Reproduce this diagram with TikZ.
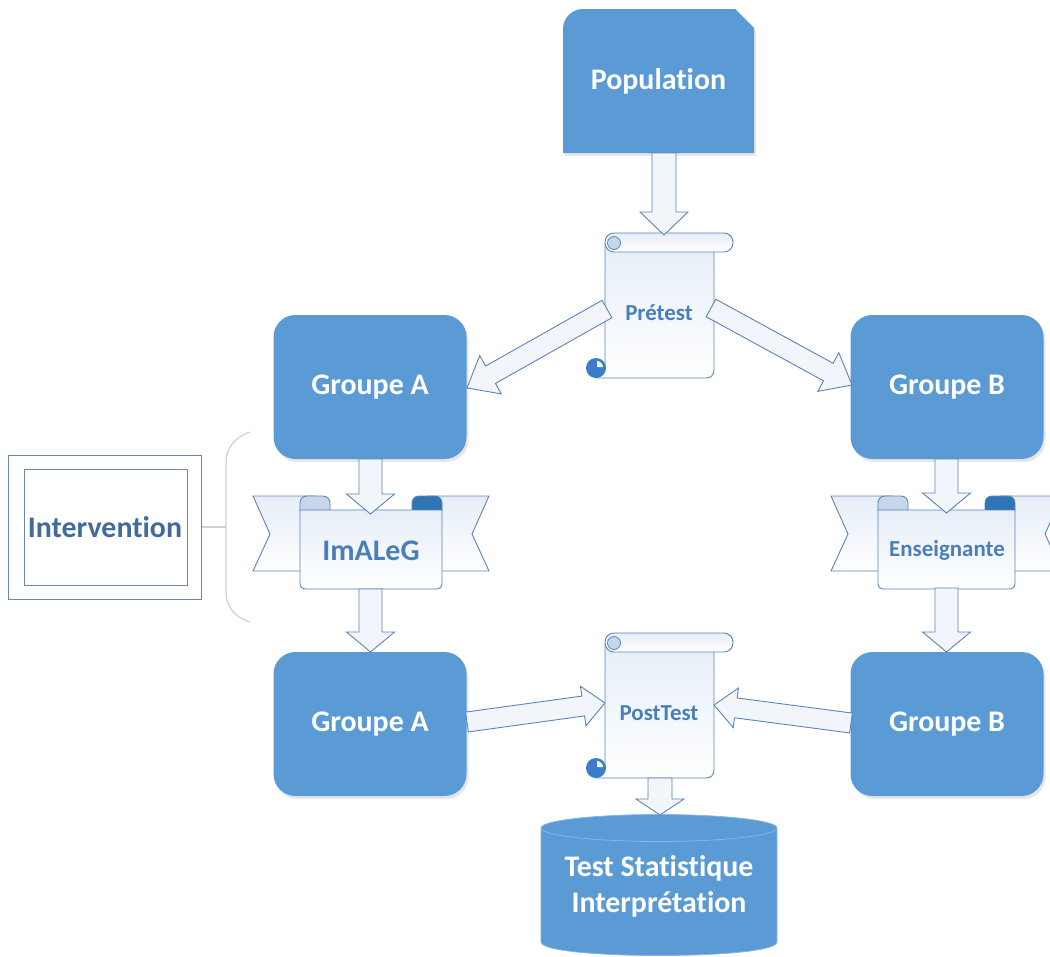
\documentclass[tikz,border=0pt]{standalone}
\usepackage{fontspec}
\setmainfont{Carlito}[Ligatures=NoCommon]
\usetikzlibrary{calc,shadows}
\definecolor{boxblue}{HTML}{5B9BD5}
\definecolor{lineblue}{HTML}{5A84B8}
\definecolor{lightfill}{HTML}{F2F6FB}
\definecolor{lighttop}{HTML}{E6EEF8}
\definecolor{txtblue}{HTML}{4A7EBB}
\definecolor{intblue}{HTML}{3F6C9C}
\definecolor{intline}{HTML}{6A86A8}
\definecolor{folddark}{HTML}{2E75B6}
\definecolor{foldlight}{HTML}{C8D6EB}
\definecolor{curlblue}{HTML}{3A7DC8}
\definecolor{bracegray}{HTML}{D0D0D0}
\definecolor{cylline}{HTML}{8CB4E0}
\tikzset{
 bluebox/.style={fill=boxblue, rounded corners=22bp, minimum width=193bp, minimum height=144bp,
   text=white, font=\bfseries\fontsize{30}{36}\selectfont,
   drop shadow={shadow xshift=2bp, shadow yshift=-3bp, opacity=.2}},
 whitetext/.style={text=white, font=\bfseries\fontsize{30}{36}\selectfont},
 lightshape/.style={draw=lineblue, top color=lighttop, bottom color=white, line width=0.9bp, line join=round},
 scrolltext/.style={text=txtblue, font=\bfseries\fontsize{23}{28}\selectfont},
 ribbontext/.style={text=txtblue, font=\bfseries\fontsize{#1}{28}\selectfont},
 blockarrow/.style={draw=lineblue, fill=lightfill, line width=0.9bp, line join=miter},
}
% block arrow: #1 start, #2 tip, #3 half shaft, #4 half head, #5 head length
\newcommand\blockarr[5]{%
 \coordinate (bah) at ($(#2)!#5!(#1)$);
 \draw[blockarrow] ($(#1)!#3!90:(#2)$) -- ($(bah)!#3!90:(#2)$) -- ($(bah)!#4!90:(#2)$) -- (#2)
   -- ($(bah)!#4!-90:(#2)$) -- ($(bah)!#3!-90:(#2)$) -- ($(#1)!#3!-90:(#2)$) -- cycle;}
% scroll shape, #1 = vertical offset
\newcommand\scrollshape[1]{%
 \begin{scope}[shift={(0,#1)}]
  \draw[lightshape] (605,245) -- (605,368) -- (596,378) -- (706,378) .. controls (711,378) and (714,375) .. (714,370) -- (714,250) -- cycle;
  \draw[lightshape, rounded corners=9bp] (605,233) rectangle (733,252);
  \draw[draw=lineblue, fill=foldlight, line width=0.8bp] (614,243) circle (6.5);
  \fill[curlblue] (596,368) circle (10);
  \fill[lightfill] (597,367) -- (597,361) .. controls (600,361) and (603,364) .. (603,367) -- cycle;
 \end{scope}}
% ribbon shape: #1 left x of banner, #2 right x of banner
\newcommand\ribbonshape[2]{%
  \draw[lightshape] ({#1-47},496) -- ({#1+15},496) -- ({#1+15},571) -- ({#1-47},571) -- ({#1-30},534) -- cycle;
  \draw[lightshape] ({#2+47},496) -- ({#2-15},496) -- ({#2-15},571) -- ({#2+47},571) -- ({#2+30},534) -- cycle;
  \draw[draw=lineblue, fill=foldlight, line width=0.9bp] ({#1},511) -- ({#1},503) .. controls ({#1},499) and ({#1+3},496) .. ({#1+7},496) -- ({#1+23},496) .. controls ({#1+27},496) and ({#1+30},499) .. ({#1+30},503) -- ({#1+30},511);
  \draw[draw=lineblue, fill=folddark, line width=0.9bp] ({#2-30},511) -- ({#2-30},503) .. controls ({#2-30},499) and ({#2-27},496) .. ({#2-23},496) -- ({#2-7},496) .. controls ({#2-3},496) and ({#2},499) .. ({#2},503) -- ({#2},511);
  \draw[lightshape] ({#1},510) -- ({#1},583) .. controls ({#1},587) and ({#1+2},589) .. ({#1+6},589) -- ({#2-6},589) .. controls ({#2-2},589) and ({#2},587) .. ({#2},583) -- ({#2},510) -- cycle;}
\begin{document}
\begin{tikzpicture}[x=1bp, y=-1bp]
\useasboundingbox (0,0) rectangle (1050,957);
\clip (0,0) rectangle (1050,957);

% Population
\fill[boxblue, drop shadow={shadow xshift=2bp, shadow yshift=-3bp, opacity=.2}]
  (563,153) -- (563,29) .. controls (563,18) and (572,9) .. (583,9) -- (735,9) -- (754,28) -- (754,153) -- cycle;
\node[whitetext] (pop) at (658.5,81) {Population};

% groups
\node[bluebox] (ga1) at (370,387) {Groupe A};
\node[bluebox] (gb1) at (947,387) {Groupe B};
\node[bluebox] (ga2) at (370,724) {Groupe A};
\node[bluebox] (gb2) at (947,724) {Groupe B};

% scrolls
\scrollshape{0}
\node[scrolltext] (pre) at (659,313) {Prétest};
\scrollshape{400}
\node[scrolltext] (post) at (659,713) {PostTest};

% ribbons
\ribbonshape{300}{442}
\node[ribbontext=30] (ima) at (371,551) {ImALeG};
\ribbonshape{878}{1015}
\node[ribbontext=23] (ens) at (947,550) {Enseignante};

% Intervention
\node[draw=intline, line width=0.9bp, minimum width=193bp, minimum height=144bp,
  text=intblue, font=\bfseries\fontsize{30}{36}\selectfont] (int) at (105,527) {Intervention};
\draw[intline, line width=0.9bp] (24,469) rectangle (187,585);
\coordinate (brc) at (226,527);
\draw[bracegray, line width=1.2bp] (250,432) .. controls (234,438) and (226,448) .. (226,462) -- (226,592)
  .. controls (226,606) and (234,617) .. (250,622);
\draw[bracegray, line width=1.2bp] (int.east) -- (brc);

% cylinder
\draw[cylline, fill=boxblue, line width=0.8bp] (541,828) -- (541,942) .. controls (541,960) and (777,960) .. (777,942) -- (777,828) -- cycle;
\draw[cylline, fill=boxblue, line width=0.8bp] (659,828) ellipse [x radius=118, y radius=13.5];
\node[whitetext, align=center] (cyl) at (659,886) {Test Statistique\\Interprétation};

% arrows
\coordinate (a1s) at (664,153); \coordinate (a1t) at (664,235);
\blockarr{a1s}{a1t}{12bp}{24bp}{23bp}
\coordinate (a2s) at (607,309); \coordinate (a2t) at (467,388);
\blockarr{a2s}{a2t}{10bp}{22bp}{27bp}
\coordinate (a3s) at (711,308); \coordinate (a3t) at (852,385);
\blockarr{a3s}{a3t}{10bp}{22bp}{27bp}
\coordinate (a4s) at (370.5,459); \coordinate (a4t) at (370.5,514);
\blockarr{a4s}{a4t}{11.5bp}{24bp}{20bp}
\coordinate (a5s) at (370.5,589); \coordinate (a5t) at (370.5,652);
\blockarr{a5s}{a5t}{11.5bp}{24bp}{20bp}
\coordinate (a6s) at (946.5,459); \coordinate (a6t) at (946.5,513);
\blockarr{a6s}{a6t}{11.5bp}{24bp}{20bp}
\coordinate (a7s) at (946.5,588); \coordinate (a7t) at (946.5,652);
\blockarr{a7s}{a7t}{11.5bp}{24bp}{20bp}
\coordinate (a8s) at (467,722); \coordinate (a8t) at (605,703);
\blockarr{a8s}{a8t}{10bp}{20bp}{22bp}
\coordinate (a9s) at (851,723); \coordinate (a9t) at (714,705);
\blockarr{a9s}{a9t}{10bp}{20bp}{22bp}
\coordinate (a10s) at (660,778); \coordinate (a10t) at (660,815);
\blockarr{a10s}{a10t}{12bp}{24bp}{16bp}
\end{tikzpicture}
\end{document}
